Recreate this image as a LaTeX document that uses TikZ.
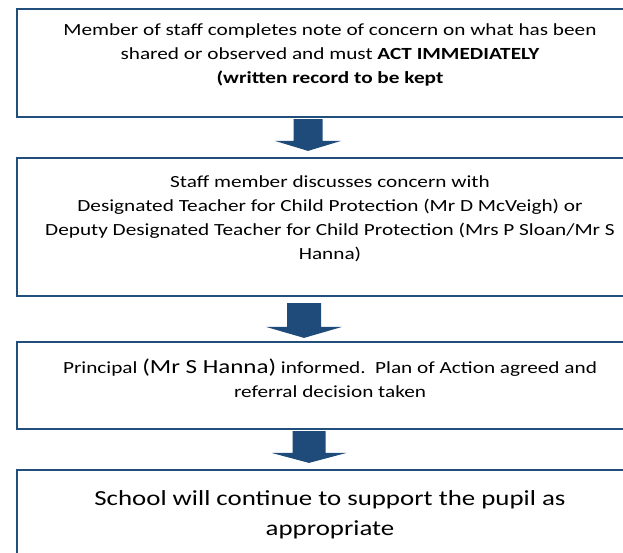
\documentclass[tikz,border=0pt]{standalone}
\usepackage{fontspec}
\setmainfont{Carlito}[FakeStretch=1.25]
\usetikzlibrary{calc}
\definecolor{boxblue}{RGB}{34,78,124}
\definecolor{arrowblue}{RGB}{31,75,122}

\begin{document}
\begin{tikzpicture}[x=1pt,y=-1pt,
  flowbox/.style={draw=boxblue,line width=2.2pt,minimum width=632pt,inner sep=0pt},
  flowtext/.style={align=center,inner sep=0pt,anchor=north,font=\fontsize{17}{24}\selectfont},
  bigtext/.style={align=center,inner sep=0pt,anchor=north,font=\fontsize{21.5}{30}\selectfont}]

\useasboundingbox (0,0) rectangle (623,552);
\clip (0,0) rectangle (623,552);

% Boxes
\node (note) at (333,63) [flowbox,minimum height=108pt] {};
\node (discuss) at (333,227) [flowbox,minimum height=138pt] {};
\node (principal) at (333,385.5) [flowbox,minimum height=87pt] {};
\node (support) at (333,530) [flowbox,minimum height=120pt] {};

% Texts
\node (notetext) at ($(note.north)+(-3,16)$) [flowtext]
{Member of staff completes note of concern on what has been\\
shared or observed and must \textbf{ACT IMMEDIATELY}\\
\textbf{(written record to be kept}};
\node (discusstext) at ($(discuss.north)+(-3,19)$) [flowtext]
{Staff member discusses concern with\\
Designated Teacher for Child Protection (Mr D McVeigh) or\\
Deputy Designated Teacher for Child Protection (Mrs P Sloan/Mr S\\
Hanna)};
\node (principaltext) at ($(principal.north)+(-3,18)$) [flowtext]
{Principal {\fontsize{20}{24}\selectfont(Mr S Hanna)} informed.\ \ Plan of Action agreed and\\
referral decision taken};
\node (supporttext) at ($(support.north)+(-3,21)$) [bigtext]
{School will continue to support the pupil as\\
appropriate};

% Arrow note -> discuss
\coordinate (aa) at ($(note.south)+(-25,1)$);
\coordinate (ab) at ($(discuss.north)+(-25,-6)$);
\fill[arrowblue] ($(aa)+(-14.5,0)$) -- ($(aa)+(14.5,0)$) -- ($(ab)+(14.5,-10)$)
  -- ($(ab)+(33,-10)$) -- (ab) -- ($(ab)+(-33,-10)$) -- ($(ab)+(-14.5,-10)$) -- cycle;

% Arrow discuss -> principal
\coordinate (ba) at ($(discuss.south)+(-29,6)$);
\coordinate (bb) at ($(principal.north)+(-29,-3)$);
\fill[arrowblue] ($(ba)+(-17,0)$) -- ($(ba)+(17,0)$) -- ($(bb)+(17,-11)$)
  -- ($(bb)+(38,-11)$) -- (bb) -- ($(bb)+(-38,-11)$) -- ($(bb)+(-17,-11)$) -- cycle;

% Arrow principal -> support
\coordinate (ca) at ($(principal.south)+(-24,1)$);
\coordinate (cb) at ($(support.north)+(-24,-6)$);
\fill[arrowblue] ($(ca)+(-16.5,0)$) -- ($(ca)+(16.5,0)$) -- ($(cb)+(16.5,-10)$)
  -- ($(cb)+(37.5,-10)$) -- (cb) -- ($(cb)+(-37.5,-10)$) -- ($(cb)+(-16.5,-10)$) -- cycle;

\end{tikzpicture}
\end{document}
